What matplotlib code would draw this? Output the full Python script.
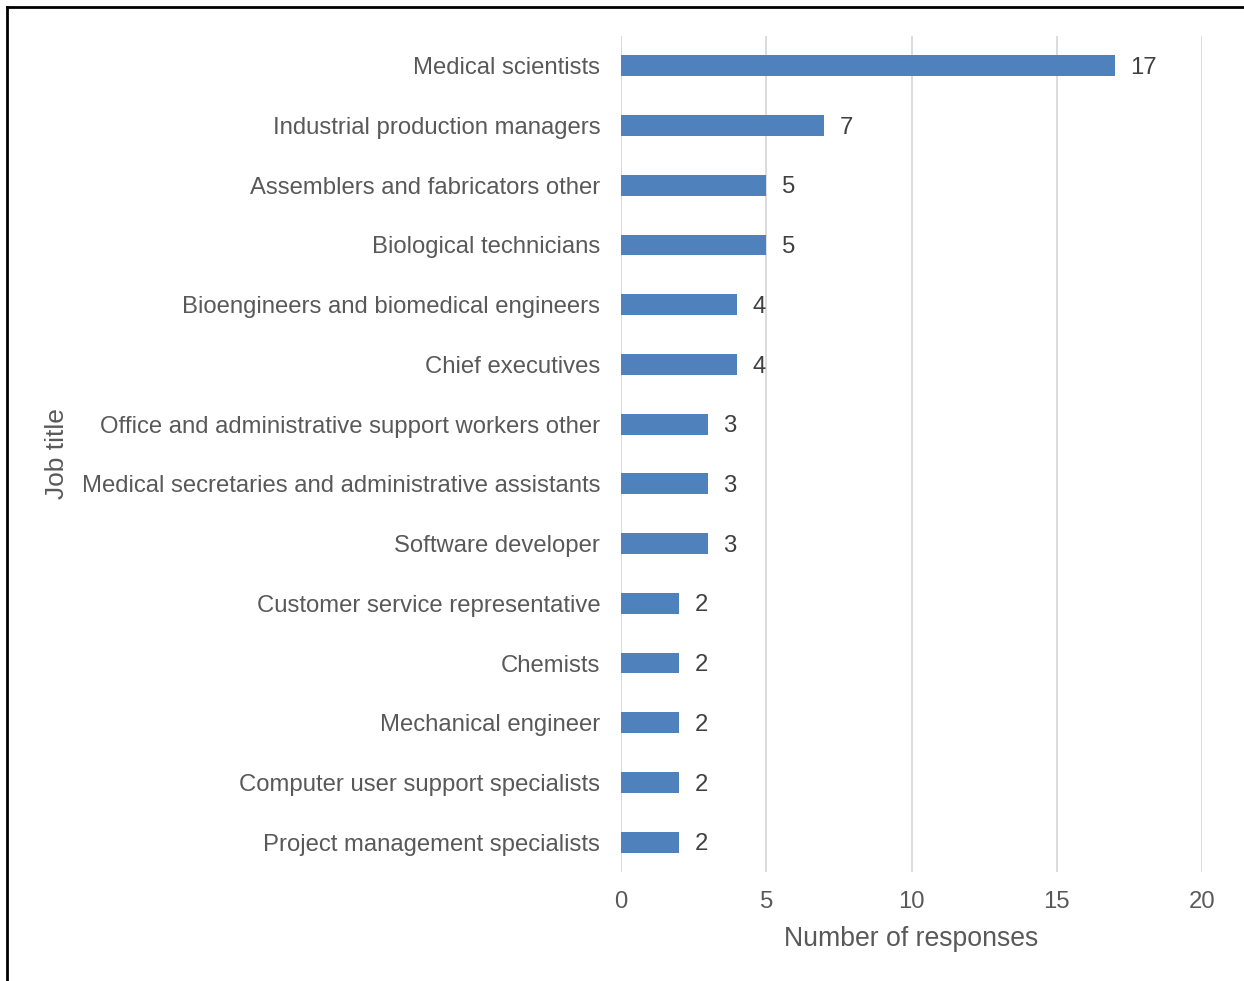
import matplotlib
matplotlib.use("Agg")
import matplotlib.pyplot as plt
from matplotlib.lines import Line2D

plt.rcParams['font.family'] = ['Liberation Sans', 'DejaVu Sans']

jobs = [
    "Medical scientists",
    "Industrial production managers",
    "Assemblers and fabricators other",
    "Biological technicians",
    "Bioengineers and biomedical engineers",
    "Chief executives",
    "Office and administrative support workers other",
    "Medical secretaries and administrative assistants",
    "Software developer",
    "Customer service representative",
    "Chemists",
    "Mechanical engineer",
    "Computer user support specialists",
    "Project management specialists",
]
responses = [17, 7, 5, 5, 4, 4, 3, 3, 3, 2, 2, 2, 2, 2]
x_ticks = [0, 5, 10, 15, 20]

W, H = 1244, 981
fig = plt.figure(figsize=(W / 100, H / 100), dpi=100)
ax = fig.add_axes([621 / W, 1 - 872 / H, (1202 - 621) / W, (872 - 36) / H])

bar_color = "#4f81bd"
text_color = "#595959"
grid_color = "#d9d9d9"

ypos = list(range(len(jobs)))
ax.barh(ypos, responses, height=0.35, color=bar_color, zorder=3)
ax.set_ylim(len(jobs) - 0.5, -0.5)
ax.set_xlim(0, 20)
ax.set_xticks(x_ticks)
ax.set_yticks(ypos)
ax.set_yticklabels(jobs)

for y, v in zip(ypos, responses):
    ax.annotate(str(v), xy=(v, y), xytext=(11, -1.5), textcoords="offset points",
                va="center", ha="left", fontsize=17.2, color="#404040", zorder=4)

ax.xaxis.grid(True, color=grid_color, linewidth=1.3, zorder=0)
ax.set_axisbelow(True)
for s in ax.spines.values():
    s.set_visible(False)
ax.axvline(0, color=grid_color, linewidth=1.3, zorder=1)

ax.tick_params(axis="both", length=0, labelsize=17.2, labelcolor=text_color)
ax.tick_params(axis="y", pad=15)
ax.tick_params(axis="x", pad=14)

ax.set_xlabel("Number of responses", fontsize=19.2, color=text_color, labelpad=9)
fig.text(57 / W, 1 - 454 / H, "Job title", rotation=90, ha="center", va="center",
         fontsize=19, color=text_color)

# frame edges along the top and left of the figure
fig.add_artist(Line2D([6.5 / W, 1], [1 - 6.5 / H, 1 - 6.5 / H], color="black",
                      linewidth=2, transform=fig.transFigure))
fig.add_artist(Line2D([6.5 / W, 6.5 / W], [0, 1 - 6.5 / H], color="black",
                      linewidth=2, transform=fig.transFigure))

fig.savefig("out.png", dpi=100, facecolor="white")
